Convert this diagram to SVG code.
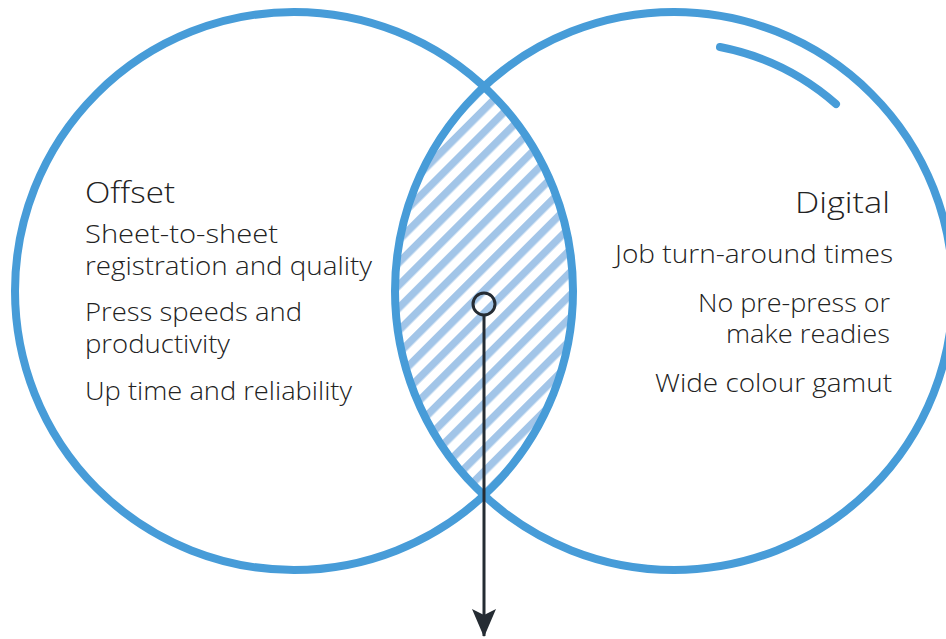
<svg xmlns="http://www.w3.org/2000/svg" width="946" height="639" viewBox="0 0 946 639">
  <style>
    .ring { fill: none; stroke: #479cd8; stroke-width: 8; }
    .t { font-family: "Open Sans", "Liberation Sans", sans-serif; font-weight: 300; fill: #222; font-size: 25px; }
    .h { font-size: 29px; }
    .r { text-anchor: end; }
    .conn { stroke: #252c33; stroke-width: 3; fill: none; }
  </style>
  <defs>
    <pattern id="hatch" width="16" height="16" patternUnits="userSpaceOnUse" patternTransform="rotate(45)">
      <rect x="0" y="0" width="7.5" height="16" fill="#a2c5e8"/>
    </pattern>
    <marker id="arrow" markerWidth="30" markerHeight="26" refX="27" refY="13" orient="auto" markerUnits="userSpaceOnUse" viewBox="0 0 30 26">
      <path d="M28,13 L0,1 L6,13 L0,25 Z" fill="#252c33"/>
    </marker>
  </defs>
  <rect width="946" height="639" fill="#ffffff"/>

  <g id="overlap">
    <path d="M484,86.7 A279,279 0 0,1 484,495.3 A279,279 0 0,1 484,86.7 Z" fill="url(#hatch)"/>
  </g>

  <g id="offset">
    <circle class="ring" cx="294" cy="291" r="279"/>
    <text class="t h" x="85" y="203" textLength="90" lengthAdjust="spacingAndGlyphs">Offset</text>
    <text class="t" x="85" y="243" textLength="193" lengthAdjust="spacingAndGlyphs">Sheet-to-sheet</text>
    <text class="t" x="85" y="275" textLength="287" lengthAdjust="spacingAndGlyphs">registration and quality</text>
    <text class="t" x="85" y="321" textLength="217" lengthAdjust="spacingAndGlyphs">Press speeds and</text>
    <text class="t" x="85" y="353" textLength="145" lengthAdjust="spacingAndGlyphs">productivity</text>
    <text class="t" x="85" y="400" textLength="267" lengthAdjust="spacingAndGlyphs">Up time and reliability</text>
  </g>

  <g id="digital">
    <circle class="ring" cx="674" cy="291" r="279"/>
    <path class="ring" d="M720,47 A248,248 0 0,1 836,104" stroke-linecap="round"/>
    <text class="t h r" x="890" y="213" textLength="95" lengthAdjust="spacingAndGlyphs">Digital</text>
    <text class="t r" x="893" y="263" textLength="278" lengthAdjust="spacingAndGlyphs">Job turn-around times</text>
    <text class="t r" x="890" y="312" textLength="192" lengthAdjust="spacingAndGlyphs">No pre-press or</text>
    <text class="t r" x="890" y="343" textLength="164" lengthAdjust="spacingAndGlyphs">make readies</text>
    <text class="t r" x="892" y="392" textLength="237" lengthAdjust="spacingAndGlyphs">Wide colour gamut</text>
  </g>

  <g id="connectors">
    <circle class="conn" cx="484" cy="304" r="11"/>
    <line class="conn" x1="484" y1="315" x2="484" y2="636" marker-end="url(#arrow)"/>
  </g>
</svg>
